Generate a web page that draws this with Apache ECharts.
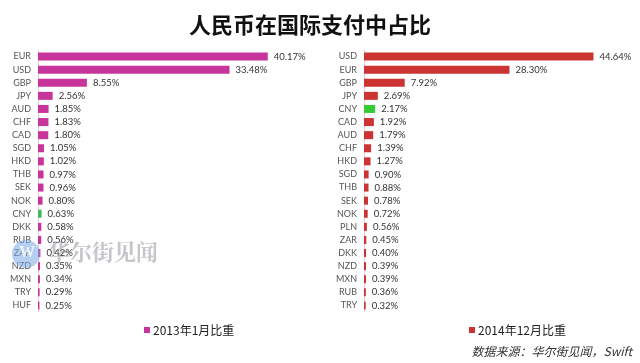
<!DOCTYPE html>
<html><head><meta charset="utf-8">
<script src="https://cdn.jsdelivr.net/npm/echarts@6/dist/echarts.min.js"></script>
<style>html,body{margin:0;padding:0;background:#fff}#c{width:640px;height:363px}</style>
</head><body><div id="c"></div>
<script>
const leftCats = ['EUR','USD','GBP','JPY','AUD','CHF','CAD','SGD','HKD','THB','SEK','NOK','CNY','DKK','RUB','ZAR','NZD','MXN','TRY','HUF'];
const leftVals = [40.17,33.48,8.55,2.56,1.85,1.83,1.80,1.05,1.02,0.97,0.96,0.80,0.63,0.58,0.56,0.42,0.35,0.34,0.29,0.25];
const rightCats = ['USD','EUR','GBP','JPY','CNY','CAD','AUD','CHF','HKD','SGD','THB','SEK','NOK','PLN','ZAR','DKK','NZD','MXN','RUB','TRY'];
const rightVals = [44.64,28.30,7.92,2.69,2.17,1.92,1.79,1.39,1.27,0.90,0.88,0.78,0.72,0.56,0.45,0.40,0.39,0.39,0.36,0.32];
const leftName = '2013年1月比重';
const rightName = '2014年12月比重';
const titleText = '人民币在国际支付中占比';
const sourceText = '数据来源：华尔街见闻，Swift';

const LEFT_COLOR = '#c8359a', RIGHT_COLOR = '#cc3333';
const CNY_LEFT = '#3dbb55', CNY_RIGHT = '#33cc33';
const lblFont = 'Lato, "Noto Sans", sans-serif';
const cjk = '"Noto Sans CJK SC", sans-serif';

const chart = echarts.init(document.getElementById('c'), null, {renderer:'canvas'});
function mkData(cats, vals, base, cny){
  return vals.map((v,i)=>({value:v, itemStyle:{color: cats[i]==='CNY'?cny:base}}));
}
const yAxisCommon = {
  type:'category', inverse:true,
  axisTick:{show:false},
  axisLabel:{color:'#555', fontSize:9, fontFamily:lblFont, margin:7},
};
chart.setOption({
  animation:false,
  backgroundColor:'#fff',
  title:{text:titleText, left:305, top:9, textAlign:'center',
    textStyle:{fontSize:22, fontWeight:'bold', color:'#111', fontFamily:cjk}},
  legend:[
    {data:[leftName], left:139, top:319, icon:'rect', itemWidth:6, itemHeight:6, itemGap:2,
     textStyle:{fontSize:12, color:'#222', fontFamily:cjk, padding:[0,0,0,-2]}},
    {data:[rightName], left:464, top:319, icon:'rect', itemWidth:6, itemHeight:6, itemGap:2,
     textStyle:{fontSize:12, color:'#222', fontFamily:cjk, padding:[0,0,0,-2]}}
  ],
  grid:[
    {left:38, top:50, width:286, height:262},
    {left:364, top:50, width:257, height:262}
  ],
  xAxis:[
    {gridIndex:0, type:'value', min:0, max:50, show:false},
    {gridIndex:1, type:'value', min:0, max:50, show:false}
  ],
  yAxis:[
    Object.assign({gridIndex:0, data:leftCats, axisLine:{show:true, lineStyle:{color:'#f0c8e4', width:1}}}, yAxisCommon),
    Object.assign({gridIndex:1, data:rightCats, axisLine:{show:true, lineStyle:{color:'#f2caca', width:1}}}, yAxisCommon)
  ],
  series:[
    {name:leftName, type:'bar', xAxisIndex:0, yAxisIndex:0, barWidth:8, color:LEFT_COLOR,
     data:mkData(leftCats,leftVals,LEFT_COLOR,CNY_LEFT),
     label:{show:true, position:'right', distance:6, color:'#333', fontSize:9.5, fontFamily:lblFont,
       formatter:p=>p.value.toFixed(2)+'%'}},
    {name:rightName, type:'bar', xAxisIndex:1, yAxisIndex:1, barWidth:8, color:RIGHT_COLOR,
     data:mkData(rightCats,rightVals,RIGHT_COLOR,CNY_RIGHT),
     label:{show:true, position:'right', distance:6, color:'#333', fontSize:9.5, fontFamily:lblFont,
       formatter:p=>p.value.toFixed(2)+'%'}}
  ],
  graphic:[
    {type:'circle', shape:{cx:26, cy:254, r:14}, style:{fill:'rgba(120,170,230,0.55)'}, z:100},
    {type:'text', left:19, top:245, style:{text:'W', fontSize:16, fontWeight:'bold', fill:'rgba(255,255,255,0.85)', fontFamily:'serif'}, z:101},
    {type:'text', left:48, top:241, style:{text:'华尔街见闻', fontSize:22, fontWeight:'bold', fill:'rgba(140,140,150,0.5)', fontFamily:'"Noto Serif CJK SC", "Noto Sans CJK SC", serif'}, z:100},
    {type:'text', right:8, top:345, style:{text:sourceText, fontSize:12, fontStyle:'italic', fill:'#333', fontFamily:cjk}, z:100}
  ]
});
</script></body></html>
